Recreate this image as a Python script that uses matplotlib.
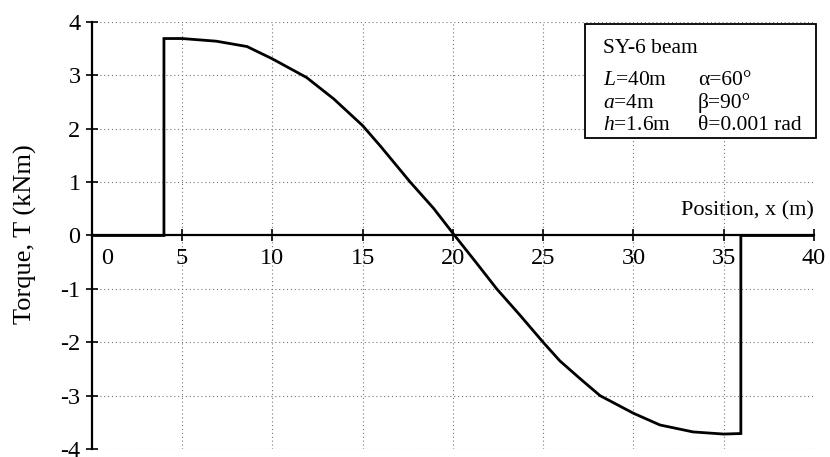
import matplotlib
matplotlib.use("Agg")
import matplotlib.pyplot as plt
from matplotlib.transforms import ScaledTranslation
from matplotlib.patches import Rectangle

plt.rcParams['font.family'] = ['Liberation Serif', 'DejaVu Serif']
plt.rcParams['mathtext.fontset'] = 'custom'
plt.rcParams['mathtext.rm'] = 'Liberation Serif'
plt.rcParams['mathtext.it'] = 'Liberation Serif:italic'
plt.rcParams['axes.unicode_minus'] = False

# Torque distribution along the beam
position = [0, 4, 4, 5, 6.9, 8.6, 10, 11.9, 13.4, 15, 16.0, 17.64, 18.93, 20.1,
            21.32, 22.43, 23.71, 25.0, 25.93, 27.04, 28.15, 30.0, 31.47, 33.3,
            35.0, 35.95, 35.95, 40]
torque = [0, 0, 3.69, 3.69, 3.64, 3.54, 3.31, 2.96, 2.56, 2.06, 1.67, 1.0, 0.51, 0.0,
          -0.52, -1.0, -1.49, -2.0, -2.35, -2.68, -3.0, -3.33, -3.55, -3.68,
          -3.72, -3.71, 0, 0]

x_ticks = [0, 5, 10, 15, 20, 25, 30, 35, 40]
y_ticks = [-4, -3, -2, -1, 0, 1, 2, 3, 4]

fig = plt.figure(figsize=(8.3, 4.57), dpi=100)
ax = fig.add_axes([0.1105, 0.0175, 0.8702, 0.9344])

ax.plot(position, torque, color='black', lw=2.0, solid_joinstyle='miter', zorder=3)

ax.set_xlim(0, 40)
ax.set_ylim(-4, 4)
ax.set_xticks(x_ticks)
ax.set_yticks(y_ticks)

ax.spines['top'].set_visible(False)
ax.spines['right'].set_visible(False)
ax.spines['bottom'].set_position(('data', 0))
ax.spines['bottom'].set_linewidth(1.6)
ax.spines['left'].set_linewidth(1.6)
ax.spines['bottom'].set_zorder(2)

ax.grid(True, color='#777777', linestyle=(0, (1, 2.5)), linewidth=0.8)

ax.tick_params(axis='x', direction='inout', length=8, width=1.2, pad=5,
               labelsize=17.5)
ax.tick_params(axis='y', direction='inout', length=8, width=1.2, pad=4,
               labelsize=17.5)

# shift the origin label clear of the vertical axis
lbl0 = ax.get_xticklabels()[0]
lbl0.set_transform(lbl0.get_transform() +
                   ScaledTranslation(15 / 100, 0, fig.dpi_scale_trans))

ax.text(40, 0.37, 'Position, x (m)', ha='right', va='baseline', fontsize=16)
fig.text(25 / 830, 1 - 234 / 457, 'Torque, T (kNm)', rotation=90,
         ha='center', va='center', fontsize=19)

# parameter box
box = Rectangle((585 / 830, 1 - 138 / 457), (816 - 585) / 830, (138 - 24) / 457,
                transform=fig.transFigure, facecolor='white', edgecolor='black',
                lw=1.3, zorder=5)
fig.patches.append(box)
fs = 15.5
kw = dict(fontsize=fs, va='baseline', zorder=6)
fig.text(603 / 830, 1 - 53 / 457, 'SY-6 beam', **kw)
fig.text(603 / 830, 1 - 85 / 457, r'$\mathit{L}$=40m', **kw)
fig.text(603 / 830, 1 - 108 / 457, r'$\mathit{a}$=4m', **kw)
fig.text(603 / 830, 1 - 130 / 457, r'$\mathit{h}$=1.6m', **kw)
fig.text(698 / 830, 1 - 85 / 457, 'α=60°', **kw)
fig.text(698 / 830, 1 - 108 / 457, 'β=90°', **kw)
fig.text(698 / 830, 1 - 130 / 457, 'θ=0.001 rad', **kw)

fig.savefig('out.png', dpi=100)
